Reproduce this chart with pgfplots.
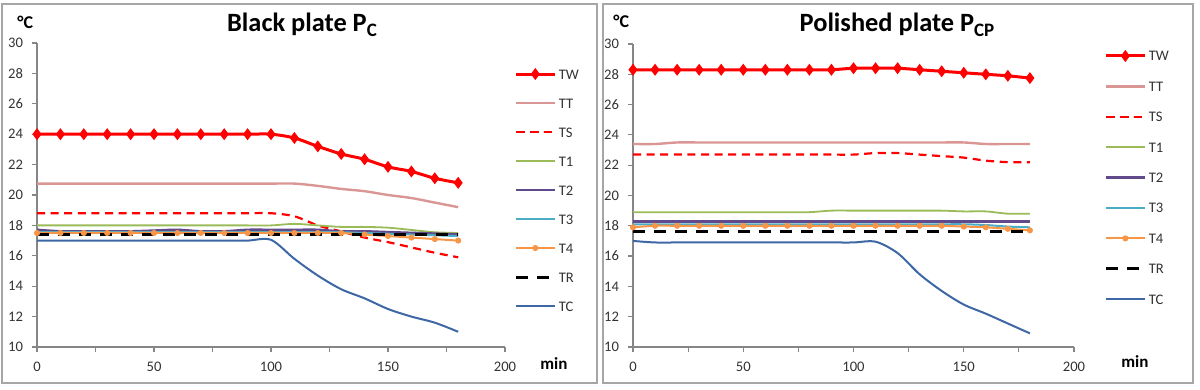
\documentclass[border=0pt]{standalone}
\usepackage{fontspec}
\setmainfont{Carlito}
\usepackage{pgfplots}
\pgfplotsset{compat=1.18}
\definecolor{cTW}{HTML}{FF0000}
\definecolor{cTT}{HTML}{D99694}
\definecolor{cTS}{HTML}{FF0000}
\definecolor{cT1}{HTML}{9BBB59}
\definecolor{cT2}{HTML}{604A8B}
\definecolor{cT3}{HTML}{4BACC6}
\definecolor{cT4}{HTML}{F79646}
\definecolor{cTC}{HTML}{3D67A5}
\definecolor{txt}{HTML}{333333}
\definecolor{axl}{HTML}{868686}
\definecolor{frm}{HTML}{A6A6A6}

\pgfplotsset{
  plate/.style={
    scale only axis,
    xmin=0, xmax=200, ymin=10, ymax=30,
    axis x line*=bottom, axis y line*=left,
    axis line style={draw=axl, line width=0.6pt},
    xtick={0,25,...,200}, xticklabels={0,,50,,100,,150,,200},
    ytick={10,12,...,30},
    tick align=outside, major tick length=2.5pt,
    tick style={draw=axl, line width=0.6pt},
    ticklabel style={font=\fontsize{7.3}{8}\selectfont, text=txt},
    /pgf/number format/assume math mode=true,
    xticklabel style={yshift=-1.5pt},
    yticklabel style={xshift=-1pt},
    legend cell align=left,
    legend style={draw=none, fill=none, inner sep=0pt, outer sep=0pt,
      font=\fontsize{7.3}{8}\selectfont, text=txt,
      nodes={inner sep=0pt, text height=5pt, text depth=0pt},
      /tikz/every odd column/.append style={column sep=1.5pt}},
    legend image code/.code={
      \path[draw=none, fill=none] (0pt,-3.5pt) rectangle (19pt,3.5pt);
      \draw[mark repeat=2,mark phase=2] plot coordinates {(0pt,0pt) (9.5pt,0pt) (19pt,0pt)};
    },
  },
  sTW/.style={color=cTW, line width=1.5pt, mark=diamond*, mark size=2.6pt, mark options={solid, fill=cTW, line width=0.5pt}, smooth},
  sTT/.style={color=cTT, line width=1.2pt, no marks, smooth},
  sTS/.style={color=cTS, line width=1.1pt, dash pattern=on 4pt off 2.8pt, no marks, smooth},
  sT1/.style={color=cT1, line width=0.9pt, no marks, smooth},
  sT2/.style={color=cT2, line width=1.4pt, no marks, smooth},
  sT3/.style={color=cT3, line width=1.0pt, no marks, smooth},
  sT4/.style={color=cT4, line width=1.0pt, mark=*, mark size=1.0pt, mark options={solid, fill=cT4}, smooth},
  sTR/.style={color=black, line width=1.5pt, dash pattern=on 6pt off 4.5pt, no marks},
  sTC/.style={color=cTC, line width=1.0pt, no marks, smooth},
}

\begin{document}
\begin{tikzpicture}
\path[use as bounding box] (0pt,0pt) rectangle (600pt,195pt);
\draw[frm, line width=0.8pt] (1pt,193pt) rectangle (298.5pt,3.5pt);
\draw[frm, line width=0.8pt] (301.5pt,193pt) rectangle (596.5pt,3.5pt);

% ---------------- Black plate ----------------
\begin{axis}[plate, at={(18.5pt,21.5pt)}, anchor=south west, width=234pt, height=152pt,
  legend style={at={(1.021,0.921)}, anchor=north west, /tikz/row sep=7.5pt}]
\addplot[sTW] coordinates {(0,24) (10,24) (20,24) (30,24) (40,24) (50,24) (60,24) (70,24) (80,24) (90,24) (100,24) (110,23.75) (120,23.2) (130,22.7) (140,22.35) (150,21.85) (160,21.55) (170,21.1) (180,20.8)};
\addlegendentry{TW}
\addplot[sTT] coordinates {(0,20.75) (10,20.75) (20,20.75) (30,20.75) (40,20.75) (50,20.75) (60,20.75) (70,20.75) (80,20.75) (90,20.75) (100,20.75) (110,20.75) (120,20.6) (130,20.4) (140,20.25) (150,20.0) (160,19.8) (170,19.5) (180,19.2)};
\addlegendentry{TT}
\addplot[sTS] coordinates {(0,18.8) (10,18.8) (20,18.8) (30,18.8) (40,18.8) (50,18.8) (60,18.8) (70,18.8) (80,18.8) (90,18.8) (100,18.8) (110,18.6) (120,18.0) (130,17.6) (140,17.2) (150,16.9) (160,16.55) (170,16.2) (180,15.9)};
\addlegendentry{TS}
\addplot[sT1] coordinates {(0,18.0) (10,18.0) (20,18.0) (30,18.0) (40,18.0) (50,18.0) (60,18.0) (70,18.0) (80,18.0) (90,18.0) (100,18.0) (110,18.1) (120,18.0) (130,17.9) (140,17.9) (150,17.85) (160,17.7) (170,17.55) (180,17.5)};
\addlegendentry{T1}
\addplot[sT2] coordinates {(0,17.7) (10,17.6) (20,17.6) (30,17.6) (40,17.6) (50,17.65) (60,17.7) (70,17.6) (80,17.6) (90,17.7) (100,17.7) (110,17.7) (120,17.7) (130,17.6) (140,17.6) (150,17.55) (160,17.5) (170,17.45) (180,17.4)};
\addlegendentry{T2}
\addplot[sT3] coordinates {(0,17.55) (10,17.55) (20,17.55) (30,17.55) (40,17.55) (50,17.55) (60,17.55) (70,17.55) (80,17.55) (90,17.55) (100,17.55) (110,17.55) (120,17.55) (130,17.55) (140,17.5) (150,17.45) (160,17.4) (170,17.35) (180,17.3)};
\addlegendentry{T3}
\addplot[sT4] coordinates {(0,17.5) (10,17.5) (20,17.5) (30,17.5) (40,17.5) (50,17.5) (60,17.5) (70,17.5) (80,17.5) (90,17.5) (100,17.5) (110,17.5) (120,17.5) (130,17.5) (140,17.4) (150,17.3) (160,17.2) (170,17.1) (180,17.0)};
\addlegendentry{T4}
\addplot[sTR] coordinates {(0,17.4) (10,17.4) (20,17.4) (30,17.4) (40,17.4) (50,17.4) (60,17.4) (70,17.4) (80,17.4) (90,17.4) (100,17.4) (110,17.4) (120,17.4) (130,17.4) (140,17.4) (150,17.4) (160,17.4) (170,17.4) (180,17.4)};
\addlegendentry{TR}
\addplot[sTC] coordinates {(0,17.0) (10,17.0) (20,17.0) (30,17.0) (40,17.0) (50,17.0) (60,17.0) (70,17.0) (80,17.0) (90,17.0) (100,17.05) (110,15.8) (120,14.7) (130,13.8) (140,13.2) (150,12.5) (160,12.0) (170,11.6) (180,11.0)};
\addlegendentry{TC}
\end{axis}

% ---------------- Polished plate ----------------
\begin{axis}[plate, at={(316.5pt,21.5pt)}, anchor=south west, width=220.5pt, height=151.5pt,
  legend style={at={(1.070,0.9835)}, anchor=north west, /tikz/row sep=8.2pt}]
\addplot[sTW] coordinates {(0,28.3) (10,28.3) (20,28.3) (30,28.3) (40,28.3) (50,28.3) (60,28.3) (70,28.3) (80,28.3) (90,28.3) (100,28.4) (110,28.4) (120,28.4) (130,28.3) (140,28.2) (150,28.1) (160,28.0) (170,27.9) (180,27.75)};
\addlegendentry{TW}
\addplot[sTT] coordinates {(0,23.4) (10,23.4) (20,23.5) (30,23.5) (40,23.5) (50,23.5) (60,23.5) (70,23.5) (80,23.5) (90,23.5) (100,23.5) (110,23.5) (120,23.5) (130,23.5) (140,23.5) (150,23.5) (160,23.4) (170,23.4) (180,23.4)};
\addlegendentry{TT}
\addplot[sTS] coordinates {(0,22.7) (10,22.7) (20,22.7) (30,22.7) (40,22.7) (50,22.7) (60,22.7) (70,22.7) (80,22.7) (90,22.7) (100,22.7) (110,22.8) (120,22.8) (130,22.7) (140,22.6) (150,22.5) (160,22.3) (170,22.2) (180,22.2)};
\addlegendentry{TS}
\addplot[sT1] coordinates {(0,18.9) (10,18.9) (20,18.9) (30,18.9) (40,18.9) (50,18.9) (60,18.9) (70,18.9) (80,18.9) (90,19.0) (100,19.0) (110,19.0) (120,19.0) (130,19.0) (140,19.0) (150,18.95) (160,18.95) (170,18.8) (180,18.8)};
\addlegendentry{T1}
\addplot[sT2] coordinates {(0,18.3) (10,18.3) (20,18.3) (30,18.3) (40,18.3) (50,18.3) (60,18.3) (70,18.3) (80,18.3) (90,18.3) (100,18.3) (110,18.3) (120,18.3) (130,18.3) (140,18.3) (150,18.3) (160,18.3) (170,18.3) (180,18.3)};
\addlegendentry{T2}
\addplot[sT3] coordinates {(0,18.1) (10,18.1) (20,18.1) (30,18.1) (40,18.1) (50,18.1) (60,18.1) (70,18.1) (80,18.1) (90,18.1) (100,18.1) (110,18.1) (120,18.1) (130,18.1) (140,18.1) (150,18.1) (160,18.05) (170,17.95) (180,17.9)};
\addlegendentry{T3}
\addplot[sT4] coordinates {(0,17.9) (10,18.0) (20,18.0) (30,18.0) (40,18.0) (50,18.0) (60,18.0) (70,18.0) (80,18.0) (90,18.0) (100,18.0) (110,18.0) (120,18.0) (130,18.0) (140,18.0) (150,17.95) (160,17.9) (170,17.8) (180,17.7)};
\addlegendentry{T4}
\addplot[sTR] coordinates {(0,17.6) (10,17.6) (20,17.6) (30,17.6) (40,17.6) (50,17.6) (60,17.6) (70,17.6) (80,17.6) (90,17.6) (100,17.6) (110,17.6) (120,17.6) (130,17.6) (140,17.6) (150,17.6) (160,17.6) (170,17.6) (180,17.6)};
\addlegendentry{TR}
\addplot[sTC] coordinates {(0,17.0) (10,16.9) (20,16.9) (30,16.9) (40,16.9) (50,16.9) (60,16.9) (70,16.9) (80,16.9) (90,16.9) (100,16.9) (110,16.95) (120,16.2) (130,14.8) (140,13.7) (150,12.8) (160,12.2) (170,11.55) (180,10.9)};
\addlegendentry{TC}
\end{axis}

% ---------------- texts ----------------
\node[anchor=base, inner sep=0pt] at (151pt,179pt) {\fontsize{13.2}{14}\selectfont\bfseries Black plate P\raisebox{-0.35ex}{\fontsize{9.5}{10}\selectfont C}};
\node[anchor=base, inner sep=0pt] at (448.5pt,179pt) {\fontsize{13.2}{14}\selectfont\bfseries Polished plate P\raisebox{-0.35ex}{\fontsize{9.5}{10}\selectfont CP}};
\node[anchor=base west, inner sep=0pt] at (8.5pt,180.5pt) {\fontsize{9}{10}\selectfont\bfseries °C};
\node[anchor=base west, inner sep=0pt] at (306.5pt,181pt) {\fontsize{9}{10}\selectfont\bfseries °C};
\node[anchor=base west, inner sep=0pt] at (270pt,10pt) {\fontsize{8.5}{9}\selectfont\bfseries min};
\node[anchor=base west, inner sep=0pt] at (560.5pt,11pt) {\fontsize{8.5}{9}\selectfont\bfseries min};
\end{tikzpicture}
\end{document}
